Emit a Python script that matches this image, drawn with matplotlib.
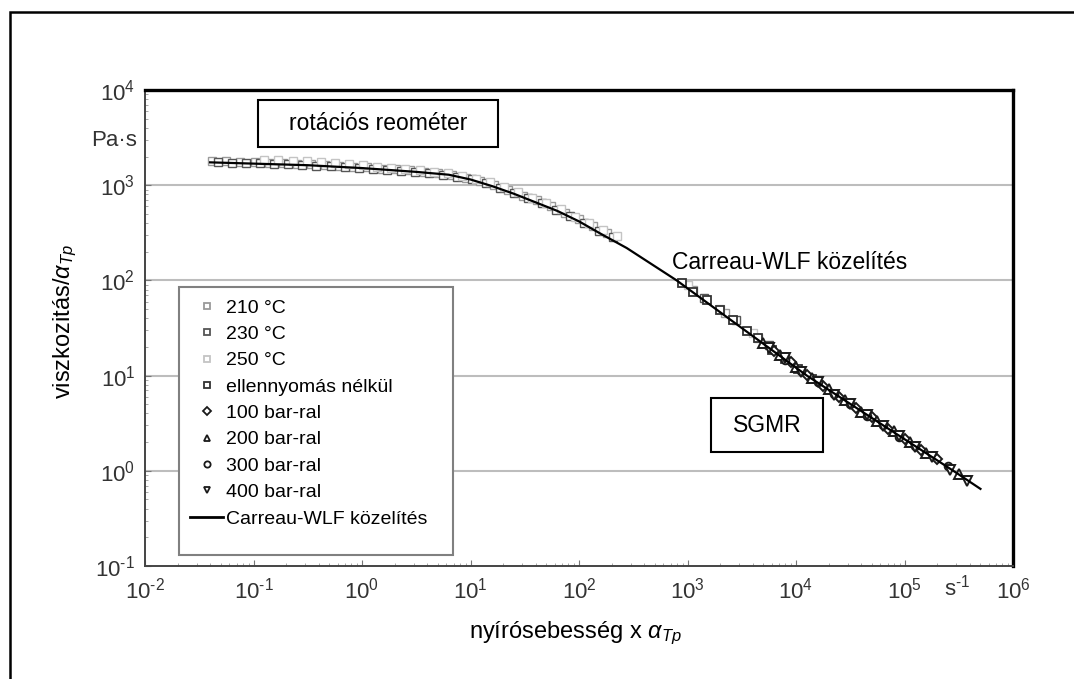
# %%
import numpy as np
import matplotlib.pyplot as plt
from matplotlib.patches import Rectangle
from matplotlib.lines import Line2D

plt.rcParams['font.family'] = ['Liberation Sans', 'DejaVu Sans']
plt.rcParams['mathtext.fontset'] = 'custom'
plt.rcParams['mathtext.rm'] = 'Liberation Sans'
plt.rcParams['mathtext.it'] = 'Liberation Sans:italic'

# %% data (log10 values)
fit_lx = [-1.40, -0.50, 0.00, 0.50, 0.80, 1.00, 1.20, 1.40, 1.60, 1.80, 2.00,
          2.20, 2.44, 2.90, 3.50, 4.10, 4.80, 5.45, 5.70]
fit_ly = [3.24, 3.21, 3.18, 3.14, 3.11, 3.06, 2.99, 2.91, 2.82, 2.73, 2.62,
          2.49, 2.34, 2.00, 1.50, 1.00, 0.48, 0.00, -0.19]

t210_lx = [-1.38, -1.25, -1.12, -0.99, -0.86, -0.73, -0.60, -0.47, -0.34, -0.21,
           -0.08, 0.05, 0.18, 0.31, 0.44, 0.57, 0.70, 0.83, 0.96, 1.09, 1.22,
           1.35, 1.48, 1.61, 1.74, 1.87, 2.00, 2.13, 2.26, 3.05, 3.35, 3.65]
t210_ly = [3.25, 3.25, 3.245, 3.24, 3.235, 3.23, 3.225, 3.22, 3.21, 3.20,
           3.195, 3.19, 3.175, 3.165, 3.155, 3.14, 3.13, 3.11, 3.08, 3.04, 3.00,
           2.95, 2.89, 2.84, 2.78, 2.71, 2.64, 2.57, 2.50, 1.90, 1.66, 1.40]

t230_lx = [-1.33, -1.20, -1.07, -0.94, -0.81, -0.68, -0.55, -0.42, -0.29, -0.16,
           -0.03, 0.10, 0.23, 0.36, 0.49, 0.62, 0.75, 0.88, 1.01, 1.14, 1.27,
           1.40, 1.53, 1.66, 1.79, 1.92, 2.05, 2.18, 2.31, 3.15, 3.45, 3.75]
t230_ly = [3.24, 3.235, 3.23, 3.23, 3.22, 3.22, 3.21, 3.205, 3.20, 3.19,
           3.18, 3.17, 3.16, 3.15, 3.14, 3.125, 3.11, 3.09, 3.06, 3.02, 2.97,
           2.92, 2.87, 2.81, 2.74, 2.68, 2.60, 2.52, 2.46, 1.82, 1.58, 1.32]

t250_lx = [-0.90, -0.77, -0.64, -0.51, -0.38, -0.25, -0.12, 0.01, 0.14, 0.27,
           0.40, 0.53, 0.66, 0.79, 0.92, 1.05, 1.18, 1.31, 1.44, 1.57, 1.70,
           1.83, 1.96, 2.09, 2.22, 2.35, 3.00, 3.30, 3.60, 3.90]
t250_ly = [3.26, 3.26, 3.255, 3.25, 3.24, 3.23, 3.22, 3.21, 3.195, 3.185,
           3.17, 3.16, 3.14, 3.125, 3.10, 3.07, 3.03, 2.98, 2.93, 2.87, 2.81,
           2.75, 2.67, 2.60, 2.53, 2.47, 1.95, 1.70, 1.45, 1.18]

p0_lx = [2.95, 3.05, 3.18, 3.30, 3.42, 3.55, 3.65, 3.78, 3.90, 4.02, 4.15]
p0_ly = [1.97, 1.88, 1.79, 1.69, 1.58, 1.47, 1.39, 1.27, 1.17, 1.07, 0.96]

p100_lx = [3.80, 3.95, 4.10, 4.25, 4.40, 4.55, 4.70, 4.85, 5.00, 5.15, 5.30]
p100_ly = [1.26, 1.14, 1.01, 0.89, 0.78, 0.66, 0.57, 0.44, 0.33, 0.22, 0.12]

p200_lx = [3.70, 3.85, 4.00, 4.15, 4.30, 4.45, 4.60, 4.75, 4.90, 5.05, 5.20, 5.50]
p200_ly = [1.34, 1.22, 1.09, 0.97, 0.86, 0.74, 0.62, 0.52, 0.42, 0.30, 0.19, -0.03]

p300_lx = [3.90, 4.05, 4.20, 4.35, 4.50, 4.65, 4.80, 4.95, 5.10, 5.40]
p300_ly = [1.16, 1.05, 0.93, 0.81, 0.70, 0.58, 0.48, 0.36, 0.26, 0.05]

p400_lx = [3.75, 3.90, 4.05, 4.20, 4.35, 4.50, 4.65, 4.80, 4.95, 5.10, 5.25, 5.42, 5.58]
p400_ly = [1.29, 1.18, 1.04, 0.93, 0.80, 0.70, 0.59, 0.47, 0.37, 0.25, 0.15, 0.01, -0.11]

x_exp = [-2, -1, 0, 1, 2, 3, 4, 5, 6]
y_exp = [-1, 0, 1, 2, 3, 4]

# %%
W, H = 1074, 679
fig = plt.figure(figsize=(W / 100, H / 100), dpi=100)
ax = fig.add_axes([145 / W, 1 - 566 / H, (1013 - 145) / W, (566 - 90) / H])


def fbox(x0, y0, x1, y1):
    return (x0 / W, 1 - y1 / H), (x1 - x0) / W, (y1 - y0) / H


def p(v):
    return 10 ** np.array(v)


def sup(k):
    # hyphen instead of the long mathtext minus, as in the scan
    return r'$10^{\text{-}%d}$' % -k if k < 0 else r'$10^{%d}$' % k


# outer frame
fig.add_artist(Rectangle((10 / W, -0.1), 1.2, 1.1 - 12 / H, transform=fig.transFigure,
                         fill=False, ec='black', lw=1.8))

for k in [0, 1, 2, 3]:
    ax.axhline(10 ** k, color='#bdbdbd', lw=1.5, zorder=1)

series = [
    (t210_lx, t210_ly, 's', '#9a9a9a', 5.5, 1.0, '210 °C'),
    (t230_lx, t230_ly, 's', '#555555', 5.5, 1.0, '230 °C'),
    (t250_lx, t250_ly, 's', '#c4c4c4', 5.5, 1.0, '250 °C'),
    (p0_lx, p0_ly, 's', '#333333', 5.5, 1.3, 'ellennyomás nélkül'),
    (p100_lx, p100_ly, 'D', '#1a1a1a', 5, 1.4, '100 bar-ral'),
    (p200_lx, p200_ly, '^', '#1a1a1a', 6.5, 1.4, '200 bar-ral'),
    (p300_lx, p300_ly, 'o', '#1a1a1a', 5.5, 1.4, '300 bar-ral'),
    (p400_lx, p400_ly, 'v', '#1a1a1a', 6.5, 1.4, '400 bar-ral'),
]
handles = []
for lx, ly, m, c, ms, mew, lab in series:
    ax.plot(p(lx), p(ly), ls='none', marker=m, ms=ms, mfc='white', mec=c, mew=mew, zorder=3)
    handles.append(Line2D([], [], ls='none', marker=m, ms=4.5, mfc='white', mec=c, mew=1.3))

ax.plot(p(fit_lx), p(fit_ly), color='black', lw=1.6, zorder=4)
handles.append(Line2D([], [], color='black', lw=2))
labels = [s[-1] for s in series] + ['Carreau-WLF közelítés']

ax.set_xscale('log')
ax.set_yscale('log')
ax.set_xlim(1e-2, 1e6)
ax.set_ylim(1e-1, 1e4)
ax.set_xticks([10.0 ** k for k in x_exp])
ax.set_xticklabels([sup(k) for k in x_exp])
ax.set_yticks([10.0 ** k for k in y_exp])
ax.set_yticklabels([sup(k) for k in y_exp])
ax.tick_params(which='major', direction='in', length=4, color='#777777',
               labelsize=16, labelcolor='#333333')
ax.tick_params(axis='x', which='major', pad=8)
ax.tick_params(axis='y', which='major', pad=7)
ax.tick_params(which='minor', direction='in', length=2, color='#999999')

for s in ['top', 'right']:
    ax.spines[s].set_linewidth(2.4)
    ax.spines[s].set_color('black')
for s in ['left', 'bottom']:
    ax.spines[s].set_linewidth(1.4)
    ax.spines[s].set_color('#444444')

# legend frame + legend
xy, w, h = fbox(179, 287, 453, 555)
ax.add_patch(Rectangle(xy, w, h, transform=fig.transFigure, fc='white', ec='#808080',
                       lw=1.5, zorder=5, clip_on=False))
leg = ax.legend(handles, labels, loc='upper left', bbox_to_anchor=(190 / W, 1 - 299 / H),
                bbox_transform=fig.transFigure, frameon=False, fontsize=14,
                borderpad=0, borderaxespad=0, handlelength=1.7, handletextpad=0.15,
                labelspacing=0.45)
leg.set_zorder(6)

# text boxes
xy, w, h = fbox(258, 100, 498, 147)
fig.add_artist(Rectangle(xy, w, h, transform=fig.transFigure, fc='white', ec='black', lw=1.5))
fig.text(378 / W, 1 - 124 / H, 'rotációs reométer', fontsize=16.5, ha='center', va='center')

xy, w, h = fbox(711, 398, 823, 452)
fig.add_artist(Rectangle(xy, w, h, transform=fig.transFigure, fc='white', ec='black', lw=1.5))
fig.text(767 / W, 1 - 425 / H, 'SGMR', fontsize=16.5, ha='center', va='center')

fig.text(790 / W, 1 - 263 / H, 'Carreau-WLF közelítés', fontsize=16.5, ha='center', va='center')

fig.text(137 / W, 1 - 140 / H, 'Pa·s', fontsize=16, color='#333333', ha='right', va='center')
fig.text(957 / W, 1 - 588 / H, r's$^{\text{-}1}$', fontsize=16, color='#333333',
         ha='center', va='center')

fig.text(575 / W, 1 - 633 / H, r'nyírósebesség x $\alpha_{Tp}$', fontsize=17,
         ha='center', va='center')
fig.text(65 / W, 1 - 322 / H, r'viszkozitás/$\alpha_{Tp}$', fontsize=17,
         ha='center', va='center', rotation=90)

fig.savefig('out.png', dpi=100)
